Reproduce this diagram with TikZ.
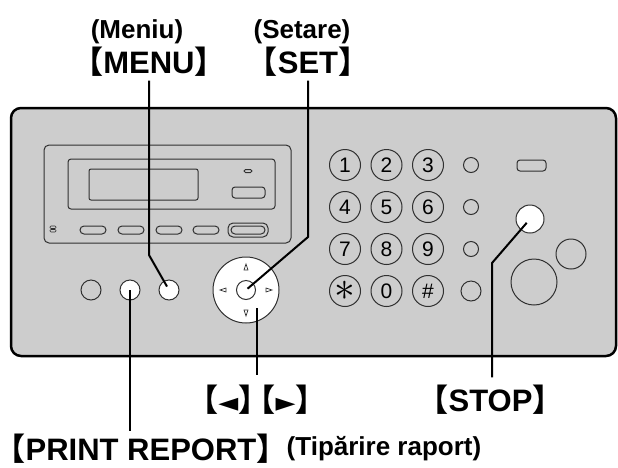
\documentclass[tikz,border=0pt]{standalone}
\usepackage{fontspec}
\setmainfont{Liberation Sans}
\newfontfamily\cjk{Noto Sans CJK SC}[RawFeature=+halt]
\newfontfamily\dejavu{DejaVu Sans}
\usetikzlibrary{positioning}
\definecolor{panelgray}{HTML}{CDCDCD}
\definecolor{linegray}{HTML}{303030}
\newcommand{\keyname}[1]{{\cjk 【}#1{\cjk 】}}
\newcommand{\pointer}[1]{{\dejavu\fontsize{26}{26}\selectfont #1}}
\tikzset{
  keylabel/.style={font=\bfseries\fontsize{31}{31}\selectfont, inner sep=0pt, anchor=base},
  note/.style={font=\bfseries\fontsize{26}{26}\selectfont, inner sep=0pt, anchor=base},
  lead/.style={line width=2pt},
  outline/.style={draw=linegray, line width=1pt},
  btn/.style={outline, circle, inner sep=0pt, minimum size=20pt},
  digit/.style={btn, minimum size=31pt, font=\fontsize{21}{21}\selectfont},
  tri/.style={draw=linegray, line width=0.7pt},
}

\begin{document}
\begin{tikzpicture}[x=1pt, y=-1pt]
    \useasboundingbox (0,0) rectangle (618,467);

    \draw[line width=2.5pt, fill=panelgray, rounded corners=10pt] (11,108) rectangle (616,356);

    % display
    \draw[outline, rounded corners=5pt] (44,145) rectangle (291,243);
    \draw[outline, rounded corners=3pt] (68,159) rectangle (275,209);
    \draw[outline, rounded corners=2pt] (89,169) rectangle (198,200);
    \draw[outline, rounded corners=1.5pt] (244,169.5) rectangle (252,172.5);
    \draw[outline, rounded corners=3pt] (232,187) rectangle (265,198);
    \draw[outline, line width=0.6pt, rounded corners=1pt] (50,226) rectangle (56,228.5);
    \draw[outline, line width=0.6pt, rounded corners=1pt] (50,229.5) rectangle (56,232);
    \foreach \x in {80,118,156,193}
      \draw[outline, rounded corners=4pt] (\x,226) rectangle +(26,8);
    \draw[outline, rounded corners=5pt] (228,223) rectangle (268,237);
    \draw[outline, rounded corners=4pt] (231,226) rectangle (265,234);

    % buttons
    \node[btn] (leftbtn) at (91,290) {};
    \node[btn, fill=white] (printbtn) at (130,290) {};
    \node[btn, fill=white] (menubtn) at (169,290) {};
    \node[btn, fill=white, minimum size=66pt] (nav) at (246,290) {};
    \node[btn, minimum size=19pt] (navok) at (246,290) {};
    \draw[tri] (244,270) -- (248,270) -- (246,264) -- cycle;
    \draw[tri] (244,310) -- (248,310) -- (246,316) -- cycle;
    \draw[tri] (226,288) -- (226,292) -- (220,290) -- cycle;
    \draw[tri] (266,288) -- (266,292) -- (272,290) -- cycle;

    \foreach \lbl/\nm [count=\i from 0] in {1/1,2/2,3/3,4/4,5/5,6/6,7/7,8/8,9/9,{\scalebox{2}{$\ast$}}/star,0/0,\#/hash}{
      \pgfmathsetmacro\kx{345+41.5*mod(\i,3)}
      \pgfmathsetmacro\ky{165+42*int(\i/3)}
      \node[digit] (k\nm) at (\kx,\ky) {\lbl};
    }
    \foreach \y [count=\i] in {165,207,249}
      \node[btn, minimum size=15pt] (lamp\i) at (471,\y) {};
    \node[btn] (lamp4) at (471,291) {};

    \draw[outline, rounded corners=3pt] (517,160) rectangle (546,171);
    \node[btn, fill=white, minimum size=28pt] (stopbtn) at (530,219) {};
    \node[btn, minimum size=30pt] (smallbtn) at (571,254) {};
    \node[btn, minimum size=46pt] (bigbtn) at (534,282) {};

    % labels
    \node[note] (meniu) at (137,38) {(Meniu)};
    \node[keylabel] (menu) at (149,73.5) {\keyname{MENU}};
    \node[note] (setare) at (302,38) {(Setare)};
    \node[keylabel] (set) at (308,73.5) {\keyname{SET}};
    \node[keylabel] (arrows) at (257,411) {\keyname{\pointer{◄}}\kern0.2em\keyname{\pointer{►}}};
    \node[keylabel] (stop) at (490.5,411) {\keyname{STOP}};
    \node[keylabel] (print) at (141,460.5) {\keyname{PRINT REPORT}};
    \node[note] (tiparire) at (384,455) {(Tipărire raport)};

    % leaders
    \coordinate (menubend) at (149,255);
    \coordinate (setbend) at (308,237);
    \coordinate (navtip) at (257,308);
    \coordinate (stopbend) at (492,263);
    \draw[lead, shorten <=4pt, shorten >=4pt] (menu.south) -- (menubend) -- (menubtn.center);
    \draw[lead, shorten <=4pt, shorten >=2pt] (set.south) -- (setbend) -- (navok.center);
    \draw[lead, shorten >=9pt] (navtip) -- (navtip |- arrows.north);
    \draw[lead, shorten >=3pt] (printbtn.center) -- (printbtn.center |- print.north);
    \draw[lead, shorten <=5pt, shorten >=7pt] (stopbtn.center) -- (stopbend) -- (stopbend |- stop.north);
\end{tikzpicture}
\end{document}
